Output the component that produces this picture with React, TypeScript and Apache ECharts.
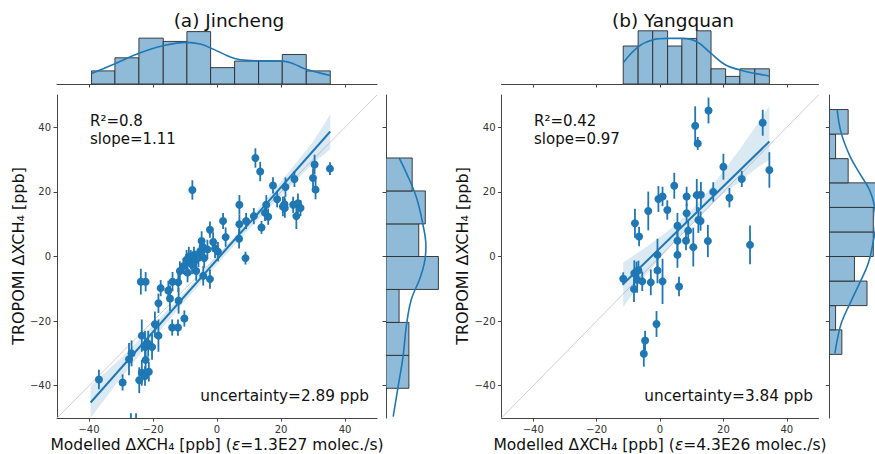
import React, { useEffect, useRef } from 'react';
import * as echarts from 'echarts';

// ---------- (a) Jincheng scatter ----------
const jcX = [-36.9, -29.5, -27.5, -26.7, -23.5, -22.5, -21.5, -22.3, -23.5, -22.5, -24.3, -21.3, -23.8, -22.3, -19.4, -18.3, -18.3, -17.6, -15.2, -14.7, -14, -12.2, -13.9, -12.1, -12, -10.2, -11.6, -10.5, -9.5, -8.8, -8.2, -7.2, -6.8, -5.8, -5.3, -4.5, -4.8, -4, -6.5, -4.3, -2.2, -2.2, -1.2, -0.6, 0.3, 1.9, 2.7, 7, 7, 6.9, 8.9, 9.1, 11.5, 12, 13.5, 13.9, 15, 15.4, 16, 17.5, 18.8, 20.6, 21.2, 21.4, 21.1, 23.8, 24.2, 24.8, 25.3, 26.1, 30, 30.5, 30.8, 35.3, -7.8, -3, -9.2, -20.3, -26.9, -25.3, -7.7];
const jcY = [-38.1, -39, -31.8, -30, -24.5, -28, -27, -32, -36, -37, -38.3, -35.7, -7.8, -7.8, -21, -24.5, -14.5, -9.8, -10.5, -13, -22, -22, -7.8, -8, -13.7, -19.2, -4.5, -3, -1, 0, -1, 0.5, -1.2, -0.3, 1.5, 3, 4.8, -0.5, -4.5, -6, -7, 8.3, 4.5, 2.5, 1.5, 11, 6, 16, 10, 5.5, -0.5, 11, 12.5, 30.5, 26.3, 9, 13.5, 16, 12.3, 22, 17.7, 15.5, 15, 21.5, 16.2, 16, 24, 12.5, 16.5, 15, 24.3, 28.5, 20.7, 27.2, -2.5, 2.2, -5, -28, -54, -54, 20.6];
const jcErr = [3, 2.5, 5, 4, 5, 5, 4, 4, 4, 3, 4, 3, 4, 3, 4, 5, 3, 2.5, 3, 4, 2.5, 2.5, 3, 3, 4, 2.5, 3, 2.5, 3, 3, 3, 2.5, 3, 3, 3, 2.5, 3, 3, 3, 3, 3, 2.5, 3, 3, 3, 2.5, 3, 3, 3, 3, 2, 2.5, 2.5, 3, 3, 2, 2.5, 3, 2.5, 2.5, 2.5, 3, 3, 3, 2.5, 2.5, 2.5, 4, 3, 2.5, 3, 3, 3, 2, 3, 3, 3, 4, 5.5, 5.5, 3];

// regression line and confidence band (a)
const jcFitX = [-39.5, 35.4];
const jcFitY = [-45.2, 38.7];
const jcBandX = [-39.5, -30, -20, -10, 0, 10, 20, 30, 35.4];
const jcBandLo = [-50, -37.5, -25.5, -13.8, -2.5, 8.4, 18.8, 28.8, 33.2];
const jcBandHi = [-40, -31.5, -21.3, -10.8, 0.1, 11.4, 23.2, 35.5, 44];

// marginal histograms (a)
const jcTopEdges = [-39.2, -31.9, -24.4, -16.8, -9.4, -2.0, 5.5, 13.0, 20.4, 27.9, 35.4];
const jcTopCounts = [4, 8, 14, 13, 16, 5, 7, 7, 9, 4];
const jcTopKdeX = [-39.2, -31.9, -24.4, -16.8, -9.4, -5.3, -2, 2, 5.5, 9.3, 13, 20.4, 23.8, 27.9, 35.4];
const jcTopKdeC = [3.2, 6.2, 9.4, 11.7, 12.7, 12.2, 11, 9.2, 7.8, 7.2, 7.1, 7.0, 6.2, 4.5, 2.6];
const jcRightEdges = [-40.8, -30.6, -20.4, -10.2, 0.0, 10.1, 20.3, 30.5];
const jcRightCounts = [7, 7, 4, 16, 10, 12, 8];
const jcRightKdeY = [30.5, 25.9, 18.6, 10.3, 3.1, -2.1, -7.2, -13.4, -21.7, -31, -40.3, -49.6];
const jcRightKdeC = [4, 6.2, 9.2, 11.2, 12.2, 11.7, 10.2, 7.7, 6.2, 5.2, 3.7, 2.2];

// ---------- (b) Yangquan scatter ----------
const yqX = [-11.6, -7.9, -6.6, -8.1, -7.4, -6.8, -8.2, -7.2, -5.6, -3.7, -2.9, -4.7, -5.1, -1.1, -0.8, -0.8, -0.5, 0.8, 0.8, 2.3, 4.5, 5.5, 5.5, 5.5, 6, 8.4, 8.4, 8.9, 8.2, 10.5, 11.1, 11.9, 11.6, 12.9, 12.1, 12.8, 15.3, 15.1, 16.8, 20, 21.9, 25.8, 28.4, 32.4, 34.5];
const yqY = [-6.9, 10.3, 6.2, -5.2, -4.6, -4.3, -10.1, -7.2, -7.7, 14.1, -8, -26, -30.1, -20.9, 0.5, -4.3, 17.8, 18.6, -7.7, 14.4, 21.9, 9.5, 4.9, 0.5, -9.3, 18.6, 13.4, 8, 4.9, 2.9, 40.5, 35, 19, 19.1, 11.3, 11, 45.2, 4.8, 20, 27.8, 18.2, 24, 3.6, 41.4, 26.8];
const yqErr = [2, 4.5, 3, 4, 3, 3, 4, 4, 3, 6, 4, 3, 4, 4, 5, 4, 4, 3, 7, 3, 4, 4, 4, 4, 3, 3, 3, 3, 3, 6, 6, 2, 5, 4, 4, 3, 4, 5, 3, 4, 3, 2.5, 6, 4, 5.5];

const yqFitX = [-11.6, 34.5];
const yqFitY = [-8.5, 35.6];
const yqBandX = [-11.6, -5, 0, 5, 10, 15, 20, 25, 30, 34.5];
const yqBandLo = [-15.7, -6.5, -0.5, 5, 10, 14.8, 19.5, 23, 27, 30];
const yqBandHi = [-1.9, 2.5, 6, 9.8, 14.4, 20, 26.5, 33, 40, 46.6];

const yqTopEdges = [-11.6, -6.9, -2.3, 2.4, 6.9, 11.6, 16.1, 20.7, 25.2, 29.9, 34.5];
const yqTopCounts = [5, 7, 7, 5, 6, 7, 2, 1, 2, 2];
const yqTopKdeX = [-11.6, -6.9, -2.4, 2.3, 6.9, 11.5, 16.0, 20.7, 25.2, 29.8, 34.5];
const yqTopKdeC = [2.8, 4.9, 5.8, 6.0, 6.0, 5.6, 4.05, 2.5, 1.85, 1.4, 1.05];
const yqRightEdges = [-30.3, -22.7, -15.2, -7.6, 0.0, 7.6, 15.2, 22.8, 30.3, 37.9, 45.5];
const yqRightCounts = [2, 1, 6, 4, 7, 7, 10, 3, 1, 3];
const yqRightKdeY = [45.3, 38.2, 31, 25.8, 20.6, 15.5, 10.3, 5.2, -2.1, -8.3, -14.5, -20.7, -26.9, -30];
const yqRightKdeC = [1.26, 1.9, 3.3, 4.8, 6.4, 7.2, 7.4, 7.05, 6.2, 4.8, 3.3, 1.9, 1.16, 0.9];

const tickValues = [-40, -20, 0, 20, 40];
const diag = [[-50, -50], [50, 50]];

const BLUE = '#1f77b4';
const HIST_FILL = '#8fbbd9';
const HIST_EDGE = '#2a2a2a';
const BAND = 'rgba(31,119,180,0.16)';
const AXIS = '#444';
const FONT = 'DejaVu Sans';

const fmt = (v: number) => (v < 0 ? '\u2212' + Math.abs(v) : String(v));

function lineAxisStyle() {
  return { show: true, onZero: false, lineStyle: { color: AXIS, width: 1 } };
}

function scatterAxes(gridIndex: number) {
  const common = {
    type: 'value', gridIndex, min: -50, max: 50,
    axisLine: lineAxisStyle(),
    axisTick: { show: true, length: 3.5, customValues: tickValues, lineStyle: { color: AXIS } },
    axisLabel: { show: true, customValues: tickValues, formatter: fmt, fontSize: 10, color: '#333', fontFamily: FONT, margin: 6 },
    splitLine: { show: false },
  };
  return { x: { ...common }, y: { ...common } };
}

function topAxes(gridIndex: number, ymax: number) {
  const x = {
    type: 'value', gridIndex, min: -50, max: 50,
    axisLine: lineAxisStyle(),
    axisTick: { show: true, length: 3.5, customValues: tickValues, lineStyle: { color: AXIS } },
    axisLabel: { show: false },
    splitLine: { show: false },
  };
  const y = { type: 'value', gridIndex, min: 0, max: ymax, show: false, splitLine: { show: false } };
  return { x, y };
}

function rightAxes(gridIndex: number, xmax: number) {
  const x = { type: 'value', gridIndex, min: 0, max: xmax, show: false, splitLine: { show: false } };
  const y = {
    type: 'value', gridIndex, min: -50, max: 50,
    axisLine: lineAxisStyle(),
    axisTick: { show: true, length: 3.5, customValues: tickValues, lineStyle: { color: AXIS } },
    axisLabel: { show: false },
    splitLine: { show: false },
  };
  return { x, y };
}

function panelSeries(
  base: number,
  xs: number[], ys: number[], es: number[],
  fitX: number[], fitY: number[],
  bandX: number[], bandLo: number[], bandHi: number[],
  topEdges: number[], topCounts: number[], topKdeX: number[], topKdeC: number[],
  rEdges: number[], rCounts: number[], rKdeY: number[], rKdeC: number[],
) {
  const s: any[] = [];
  const ax = { xAxisIndex: base, yAxisIndex: base };
  s.push({ type: 'line', ...ax, data: diag, showSymbol: false, lineStyle: { color: '#cfcfcf', width: 1 }, z: 1, silent: true });
  s.push({
    type: 'custom', ...ax, data: [[0, 0]], clip: true, z: 2, silent: true,
    renderItem: (_p: any, api: any) => {
      const pts: number[][] = [];
      for (let i = 0; i < bandX.length; i++) pts.push(api.coord([bandX[i], bandHi[i]]));
      for (let i = bandX.length - 1; i >= 0; i--) pts.push(api.coord([bandX[i], bandLo[i]]));
      return { type: 'polygon', shape: { points: pts }, style: { fill: BAND } };
    },
  });
  s.push({
    type: 'custom', ...ax, clip: true, z: 3, silent: true,
    data: xs.map((x, i) => [x, ys[i], es[i]]),
    renderItem: (_p: any, api: any) => {
      const x = api.value(0), y = api.value(1), e = api.value(2);
      const a = api.coord([x, y - e]);
      const b = api.coord([x, y + e]);
      return { type: 'line', shape: { x1: a[0], y1: a[1], x2: b[0], y2: b[1] }, style: { stroke: BLUE, lineWidth: 1.8 } };
    },
  });
  s.push({
    type: 'scatter', ...ax, data: xs.map((x, i) => [x, ys[i]]), symbolSize: 8, clip: true, z: 4,
    itemStyle: { color: BLUE, opacity: 1 },
  });
  s.push({
    type: 'line', ...ax, data: fitX.map((x, i) => [x, fitY[i]]), showSymbol: false, z: 5,
    lineStyle: { color: BLUE, width: 2 },
  });
  // top histogram
  const tax = { xAxisIndex: base + 1, yAxisIndex: base + 1 };
  s.push({
    type: 'custom', ...tax, clip: true, z: 2,
    data: topCounts.map((c, i) => [topEdges[i], topEdges[i + 1], c]),
    renderItem: (_p: any, api: any) => {
      const p0 = api.coord([api.value(0), 0]);
      const p1 = api.coord([api.value(1), api.value(2)]);
      return { type: 'rect', shape: { x: p0[0], y: p1[1], width: p1[0] - p0[0], height: p0[1] - p1[1] }, style: { fill: HIST_FILL, stroke: HIST_EDGE, lineWidth: 0.9 } };
    },
  });
  s.push({
    type: 'line', ...tax, data: topKdeX.map((x, i) => [x, topKdeC[i]]), showSymbol: false, smooth: 0.4, z: 3,
    lineStyle: { color: BLUE, width: 1.6 },
  });
  // right histogram
  const rax = { xAxisIndex: base + 2, yAxisIndex: base + 2 };
  s.push({
    type: 'custom', ...rax, clip: true, z: 2,
    data: rCounts.map((c, i) => [rEdges[i], rEdges[i + 1], c]),
    renderItem: (_p: any, api: any) => {
      const p0 = api.coord([0, api.value(0)]);
      const p1 = api.coord([api.value(2), api.value(1)]);
      return { type: 'rect', shape: { x: p0[0], y: p1[1], width: p1[0] - p0[0], height: p0[1] - p1[1] }, style: { fill: HIST_FILL, stroke: HIST_EDGE, lineWidth: 0.9 } };
    },
  });
  s.push({
    type: 'line', ...rax, data: rKdeC.map((c, i) => [c, rKdeY[i]]), showSymbol: false, smooth: 0.4, clip: true, z: 3,
    lineStyle: { color: BLUE, width: 1.6 },
  });
  return s;
}

function txt(x: number, y: number, text: string, size: number, align: string, extra: any = {}, rich?: any) {
  const style: any = { text, fontSize: size, fontFamily: FONT, fill: '#111', align, verticalAlign: 'middle', textAlign: align, textVerticalAlign: 'middle' };
  if (rich) style.rich = rich;
  return { type: 'text', x, y, ...extra, style };
}

const nameRich = (size: number) => ({
  n: { fontSize: size, fontFamily: FONT, fill: '#111', color: '#111' },
  i: { fontSize: size, fontFamily: FONT, fontStyle: 'italic', fill: '#111', color: '#111' },
});

export default function App() {
  const ref = useRef<HTMLDivElement>(null);
  useEffect(() => {
    const chart = echarts.init(ref.current!, null, { renderer: 'svg' });
    const a0 = scatterAxes(0), a1 = topAxes(1, 17.1), a2 = rightAxes(2, 16.8);
    const b0 = scatterAxes(3), b1 = topAxes(4, 7.37), b2 = rightAxes(5, 7.27);
    const option: any = {
      animation: false,
      backgroundColor: '#ffffff',
      grid: [
        { left: 57, top: 95, width: 320, height: 323 },
        { left: 57, top: 28, width: 320, height: 56 },
        { left: 386, top: 95, width: 55, height: 323 },
        { left: 501.5, top: 95, width: 317, height: 323 },
        { left: 501.5, top: 28, width: 317, height: 56 },
        { left: 829.3, top: 95, width: 46, height: 323 },
      ],
      xAxis: [a0.x, a1.x, a2.x, b0.x, b1.x, b2.x],
      yAxis: [a0.y, a1.y, a2.y, b0.y, b1.y, b2.y],
      series: [
        ...panelSeries(0, jcX, jcY, jcErr, jcFitX, jcFitY, jcBandX, jcBandLo, jcBandHi,
          jcTopEdges, jcTopCounts, jcTopKdeX, jcTopKdeC, jcRightEdges, jcRightCounts, jcRightKdeY, jcRightKdeC),
        ...panelSeries(3, yqX, yqY, yqErr, yqFitX, yqFitY, yqBandX, yqBandLo, yqBandHi,
          yqTopEdges, yqTopCounts, yqTopKdeX, yqTopKdeC, yqRightEdges, yqRightCounts, yqRightKdeY, yqRightKdeC),
      ],
      graphic: [
        txt(229, 20, '(a) Jincheng', 18.5, 'center'),
        txt(673, 20, '(b) Yangquan', 18.5, 'center'),
        txt(90, 121, 'R\u00b2=0.8', 15, 'left'),
        txt(90, 139, 'slope=1.11', 15, 'left'),
        txt(369, 396, 'uncertainty=2.89 ppb', 15.3, 'right'),
        txt(534, 121, 'R\u00b2=0.42', 15, 'left'),
        txt(534, 139, 'slope=0.97', 15, 'left'),
        txt(813, 396, 'uncertainty=3.84 ppb', 15.3, 'right'),
        txt(18.5, 256, 'TROPOMI \u0394XCH\u2084 [ppb]', 16, 'center', { rotation: Math.PI / 2 }),
        txt(462, 256, 'TROPOMI \u0394XCH\u2084 [ppb]', 16, 'center', { rotation: Math.PI / 2 }),
        txt(217, 445, '{n|Modelled \u0394XCH\u2084 [ppb] (}{i|\u03b5}{n|=1.3E27 molec./s)}', 15.5, 'center', {}, nameRich(15.5)),
        txt(660, 445, '{n|Modelled \u0394XCH\u2084 [ppb] (}{i|\u03b5}{n|=4.3E26 molec./s)}', 15.5, 'center', {}, nameRich(15.5)),
      ],
    };
    chart.setOption(option);
    return () => chart.dispose();
  }, []);
  return <div ref={ref} style={{ position: 'absolute', left: 0, top: 0, width: 875, height: 454 }} />;
}
